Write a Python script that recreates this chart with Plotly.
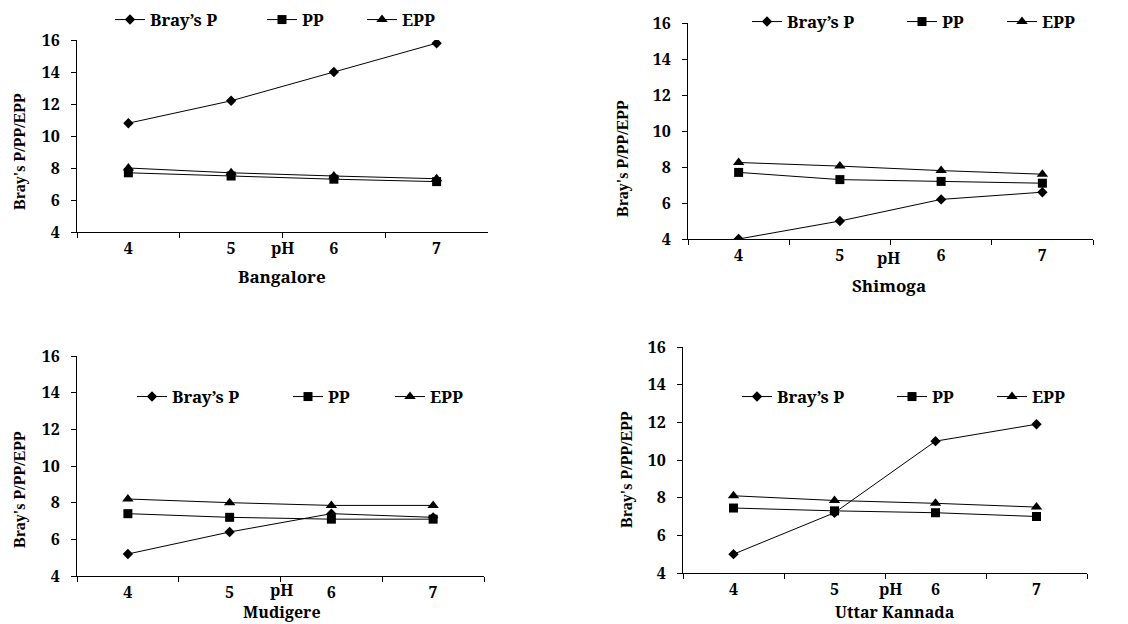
import plotly.graph_objects as go

# ---------------- data ----------------
ph_levels = ["4", "5", "6", "7"]
series_names = ["Bray\u2019s P", "PP", "EPP"]
panel_names = ["Bangalore", "Shimoga", "Mudigere", "Uttar Kannada"]

bangalore_brays = [10.8, 12.2, 14.0, 15.8]
bangalore_pp = [7.7, 7.5, 7.3, 7.15]
bangalore_epp = [8.0, 7.7, 7.5, 7.33]

shimoga_brays = [4.0, 5.0, 6.2, 6.6]
shimoga_pp = [7.7, 7.3, 7.2, 7.1]
shimoga_epp = [8.25, 8.05, 7.8, 7.6]

mudigere_brays = [5.2, 6.4, 7.4, 7.2]
mudigere_pp = [7.4, 7.2, 7.1, 7.1]
mudigere_epp = [8.2, 8.0, 7.85, 7.85]

uttar_brays = [5.0, 7.2, 11.0, 11.9]
uttar_pp = [7.45, 7.3, 7.2, 7.0]
uttar_epp = [8.1, 7.85, 7.7, 7.5]

y_ticks = [4, 6, 8, 10, 12, 14, 16]

panel_data = [
    (bangalore_brays, bangalore_pp, bangalore_epp),
    (shimoga_brays, shimoga_pp, shimoga_epp),
    (mudigere_brays, mudigere_pp, mudigere_epp),
    (uttar_brays, uttar_pp, uttar_epp),
]

# ---------------- layout (page pixels) ----------------
PAGE_W, PAGE_H = 1128, 624
OFF = 8  # default page margin of the html body
W, H = PAGE_W - OFF, PAGE_H - OFF
areas = [(77, 488, 40, 232), (688, 1093, 23, 239), (77, 484, 356, 576), (683, 1087, 347, 573)]
legend_rows = [(20, (110, 262, 362)), (22, (747, 902, 1002)), (397, (132, 288, 390)), (397, (737, 892, 992))]
ytitle_pos = [(20, 152), (623, 159), (20, 490), (627, 470)]
ph_pos = [(282, 248), (888, 258), (281, 590), (890, 589)]
sub_pos = [(282, 276), (889, 285), (282, 612), (895, 612)]
sub_sizes = [17, 17, 16, 16]

symbols = ["diamond", "square", "triangle-up"]
msizes = [8, 9, 10]

FONT = "Noto Serif"
FONT_V = "Liberation Serif"


def bold(s):
    return "<b>" + str(s) + "</b>"


def px_x(p):
    return (p - OFF) / W


def px_y(p):
    return 1 - (p - OFF) / H


fig = go.Figure()
layout = dict(
    width=W, height=H, margin=dict(l=0, r=0, t=0, b=0, autoexpand=False),
    paper_bgcolor="white", plot_bgcolor="white", showlegend=True,
    font=dict(family=FONT, size=16, color="black"),
)
annotations = []
leg_idx = 0
for i, (vals, area) in enumerate(zip(panel_data, areas)):
    sfx = "" if i == 0 else str(i + 1)
    xl, xr, yt, yb = area
    layout["xaxis" + sfx] = dict(
        domain=[px_x(xl), px_x(xr)], anchor="y" + sfx, type="category",
        range=[-0.5, 3.5], showline=True, linecolor="black", linewidth=1,
        ticks="outside", ticklen=5, tickcolor="black", tickson="boundaries",
        tickvals=ph_levels, ticktext=[bold(v) for v in ph_levels],
        showgrid=False, zeroline=False, ticklabelstandoff=2,
        tickfont=dict(family=FONT, size=16, color="black"),
    )
    layout["yaxis" + sfx] = dict(
        domain=[px_y(yb), px_y(yt)], anchor="x" + sfx, range=[4, 16],
        tickvals=y_ticks, ticktext=[bold(v) for v in y_ticks],
        showline=True, linecolor="black", linewidth=1,
        ticks="outside", ticklen=5, tickcolor="black", showgrid=False,
        zeroline=False, ticklabelstandoff=8,
        tickfont=dict(family=FONT, size=16, color="black"),
    )
    ly, lxs = legend_rows[i]
    for j, (name, yv) in enumerate(zip(series_names, vals)):
        leg_idx += 1
        lname = "legend" if leg_idx == 1 else "legend" + str(leg_idx)
        fig.add_trace(go.Scatter(
            x=ph_levels, y=yv, name=bold(name), mode="lines+markers",
            line=dict(color="black", width=1),
            marker=dict(symbol=symbols[j], size=msizes[j], color="black"),
            xaxis="x" + sfx, yaxis="y" + sfx, legend=lname,
        ))
        layout[lname] = dict(
            x=px_x(lxs[j]), y=px_y(ly), xanchor="left", yanchor="middle",
            orientation="h", bgcolor="rgba(0,0,0,0)", borderwidth=0,
            font=dict(family=FONT, size=17, color="black"),
            itemwidth=30,
        )
    tx, ty = ytitle_pos[i]
    annotations.append(dict(text=bold("Bray's P/PP/EPP"), x=px_x(tx), y=px_y(ty), xref="paper", yref="paper",
                            showarrow=False, textangle=-90, xanchor="center", yanchor="middle",
                            font=dict(family=FONT_V, size=16, color="black")))
    tx, ty = ph_pos[i]
    annotations.append(dict(text=bold("pH"), x=px_x(tx), y=px_y(ty), xref="paper", yref="paper",
                            showarrow=False, xanchor="center", yanchor="middle",
                            font=dict(family=FONT, size=16, color="black")))
    tx, ty = sub_pos[i]
    annotations.append(dict(text=bold(panel_names[i]), x=px_x(tx), y=px_y(ty), xref="paper", yref="paper",
                            showarrow=False, xanchor="center", yanchor="middle",
                            font=dict(family=FONT, size=sub_sizes[i], color="black")))

layout["annotations"] = annotations
fig.update_layout(**layout)
fig.write_html("out.html")
